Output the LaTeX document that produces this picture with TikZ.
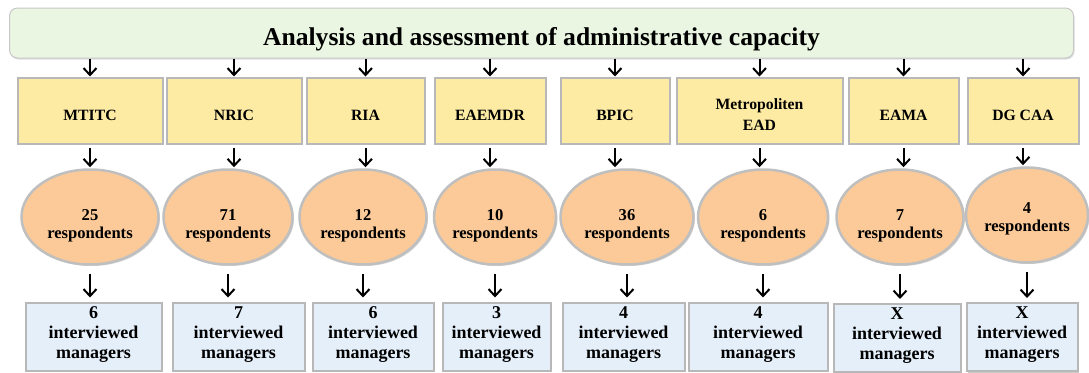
\documentclass[tikz,border=0pt]{standalone}
\usepackage{fontspec}
\setmainfont{Liberation Serif}
\usepackage{xcolor}
\usepackage{tikz}
\usetikzlibrary{positioning, arrows.meta, shapes, shadows}

\definecolor{headgreen}{RGB}{234,246,226}
\definecolor{orgyellow}{RGB}{253,235,164}
\definecolor{resppeach}{RGB}{251,202,152}
\definecolor{mgrblue}{RGB}{229,239,250}

\begin{document}
\begin{tikzpicture}[x=1pt, y=-1pt,
    headbar/.style={draw=black!22, line width=1pt, fill=headgreen, rounded corners=8pt,
        minimum width=1064pt, minimum height=50pt, text height=24pt, text depth=0pt,
        font=\fontsize{25.6}{28}\selectfont\bfseries,
        drop shadow={shadow xshift=1pt, shadow yshift=-1.5pt, fill=black!25}},
    org/.style={draw=black!28, line width=2pt, fill=orgyellow, minimum height=66pt,
        align=center, text height=20pt, text depth=0pt,
        font=\fontsize{15.7}{21}\selectfont\bfseries,
        drop shadow={shadow xshift=1.5pt, shadow yshift=-1.5pt, fill=black!40}},
    resp/.style={ellipse, draw=black!25, line width=2.5pt, fill=resppeach, inner sep=0pt,
        minimum height=95pt, align=center, text height=42pt, text depth=0pt,
        font=\fontsize{16.6}{18}\selectfont\bfseries,
        drop shadow={shadow xshift=1.5pt, shadow yshift=-1.5pt, fill=black!35}},
    mgr/.style={draw=black!28, line width=2pt, fill=mgrblue, minimum height=68pt,
        align=center, inner ysep=2pt, text height=43pt, text depth=0pt,
        font=\fontsize{18}{20}\selectfont\bfseries,
        drop shadow={shadow xshift=1.5pt, shadow yshift=-1.5pt, fill=black!40}},
    arr/.style={-{Straight Barb[length=7pt, width=13pt]}, line width=2pt}]

    \useasboundingbox (0,0) rectangle (1089,372);

    % Heading
    \node (head) [headbar] at (541.5,33) {Analysis and assessment of administrative capacity};

    % Institutions
    \node (mtitc)  [org, minimum width=145pt] at (90,110.5)    {MTITC};
    \node (nric)   [org, minimum width=135pt] at (234,110.5)   {NRIC};
    \node (ria)    [org, minimum width=118pt] at (365.5,110.5) {RIA};
    \node (eaemdr) [org, minimum width=111pt] at (490,110.5)   {EAEMDR};
    \node (bpic)   [org, minimum width=109pt] at (615,110.5)   {BPIC};
    \node (metro)  [org, minimum width=166pt, text height=39pt]
        at (759.5,110.5) {Metropoliten\\EAD};
    \node (eama)   [org, minimum width=110pt] at (903.5,110.5) {EAMA};
    \node (dgcaa)  [org, minimum width=111pt] at (1023,110.5)  {DG CAA};

    % Respondents
    \node (mtitc-r)  [resp, minimum width=137pt] at (90,217)   {25\\respondents};
    \node (nric-r)   [resp, minimum width=129pt] at (228,217)  {71\\respondents};
    \node (ria-r)    [resp, minimum width=127pt] at (363,217)  {12\\respondents};
    \node (eaemdr-r) [resp, minimum width=122pt] at (495,217)  {10\\respondents};
    \node (bpic-r)   [resp, minimum width=133pt] at (627,217)  {36\\respondents};
    \node (metro-r)  [resp, minimum width=130pt] at (763,217)  {6\\respondents};
    \node (eama-r)   [resp, minimum width=127pt] at (900,217)  {7\\respondents};
    \node (dgcaa-r)  [resp, minimum width=122pt, text height=32pt]
        at (1027,215) {4\\respondents};

    % Interviewed managers
    \node (mtitc-m)  [mgr, minimum width=136pt] at (93.5,336.5)  {6\\interviewed\\managers};
    \node (nric-m)   [mgr, minimum width=132pt] at (238.5,336.5) {7\\interviewed\\managers};
    \node (ria-m)    [mgr, minimum width=121pt] at (373,336.5)   {6\\interviewed\\managers};
    \node (eaemdr-m) [mgr, minimum width=108pt] at (496.5,336.5) {3\\interviewed\\managers};
    \node (bpic-m)   [mgr, minimum width=122pt] at (623.5,336.5) {4\\interviewed\\managers};
    \node (metro-m)  [mgr, minimum width=139pt] at (758,336.5)   {4\\interviewed\\managers};
    \node (eama-m)   [mgr, minimum width=127pt] at (897,338)     {X\\interviewed\\managers};
    \node (dgcaa-m)  [mgr, minimum width=111pt] at (1022,337)    {X\\interviewed\\managers};

    % Edges
    \draw[arr] (head.south -| mtitc) -- (mtitc);
    \draw[arr] (head.south -| nric) -- (nric);
    \draw[arr] (head.south -| ria) -- (ria);
    \draw[arr] (head.south -| eaemdr) -- (eaemdr);
    \draw[arr] (head.south -| bpic) -- (bpic);
    \draw[arr] (head.south -| metro) -- (metro);
    \draw[arr] (head.south -| eama) -- (eama);
    \draw[arr] (head.south -| dgcaa) -- (dgcaa);

    \draw[arr, shorten <=3pt, shorten >=1pt] (mtitc.south) -- (mtitc.south |- mtitc-r.north);
    \draw[arr, shorten <=3pt, shorten >=1pt] (nric.south) -- (nric.south |- nric-r.north);
    \draw[arr, shorten <=3pt, shorten >=1pt] (ria.south) -- (ria.south |- ria-r.north);
    \draw[arr, shorten <=3pt, shorten >=1pt] (eaemdr.south) -- (eaemdr.south |- eaemdr-r.north);
    \draw[arr, shorten <=3pt, shorten >=1pt] (bpic.south) -- (bpic.south |- bpic-r.north);
    \draw[arr, shorten <=3pt, shorten >=1pt] (metro.south) -- (metro.south |- metro-r.north);
    \draw[arr, shorten <=3pt, shorten >=1pt] (eama.south) -- (eama.south |- eama-r.north);
    \draw[arr, shorten <=3pt, shorten >=1pt] (dgcaa.south) -- (dgcaa.south |- dgcaa-r.north);

    \draw[arr, shorten <=8pt, shorten >=4pt] (mtitc-r.south) -- (mtitc-r.south |- mtitc-m.north);
    \draw[arr, shorten <=8pt, shorten >=4pt] (nric-r.south) -- (nric-r.south |- nric-m.north);
    \draw[arr, shorten <=8pt, shorten >=4pt] (ria-r.south) -- (ria-r.south |- ria-m.north);
    \draw[arr, shorten <=8pt, shorten >=4pt] (eaemdr-r.south) -- (eaemdr-r.south |- eaemdr-m.north);
    \draw[arr, shorten <=8pt, shorten >=4pt] (bpic-r.south) -- (bpic-r.south |- bpic-m.north);
    \draw[arr, shorten <=8pt, shorten >=4pt] (metro-r.south) -- (metro-r.south |- metro-m.north);
    \draw[arr, shorten <=8pt, shorten >=4pt] (eama-r.south) -- (eama-r.south |- eama-m.north);
    \draw[arr, shorten <=8pt, shorten >=4pt] (dgcaa-r.south) -- (dgcaa-r.south |- dgcaa-m.north);
\end{tikzpicture}
\end{document}
